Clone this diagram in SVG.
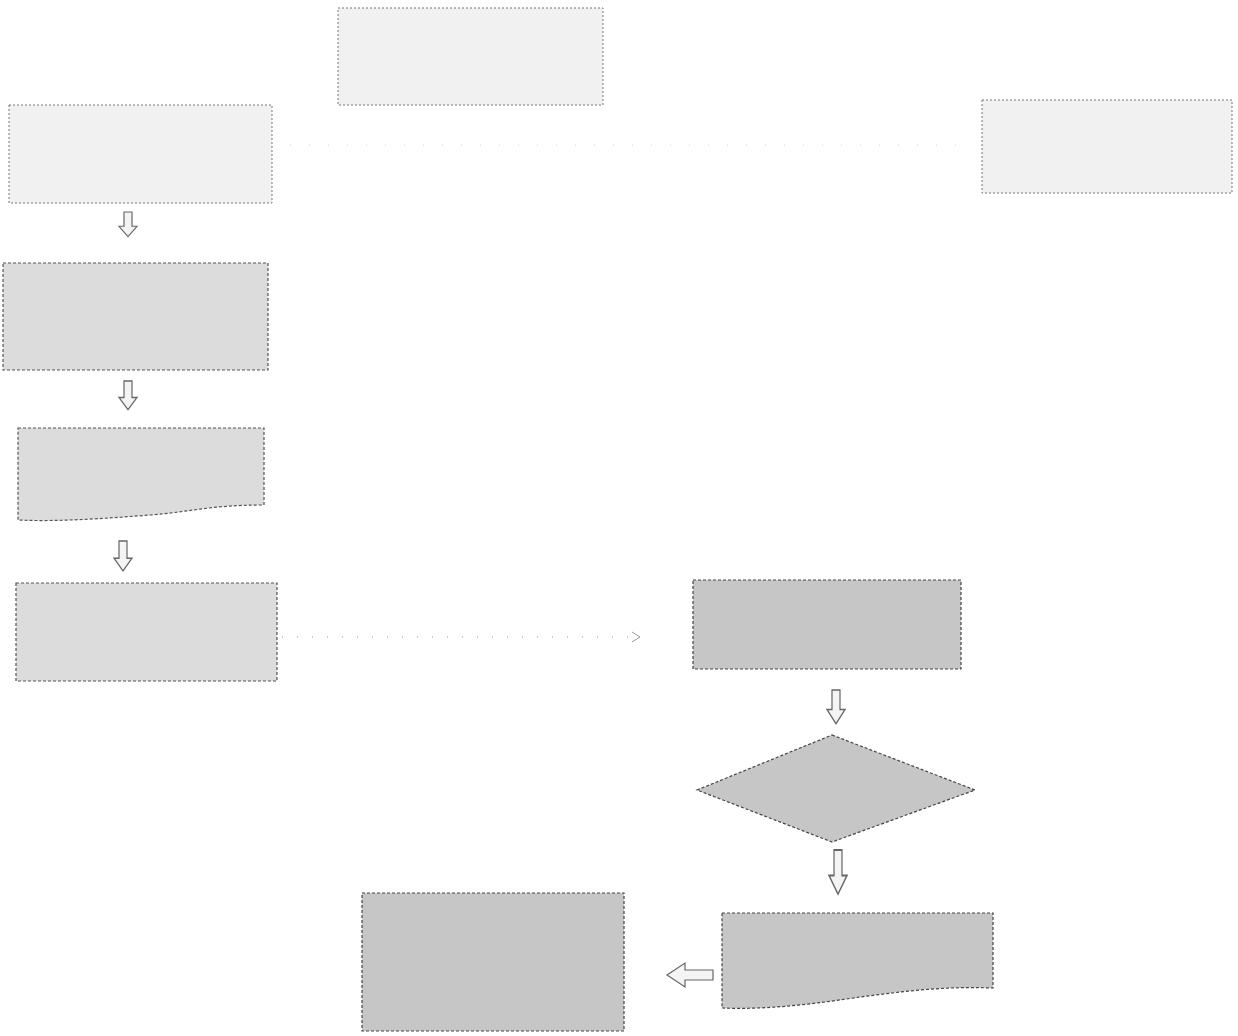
<svg xmlns="http://www.w3.org/2000/svg" width="1238" height="1036" viewBox="0 0 1238 1036">
<style>
.light{fill:#f1f1f1;stroke:#777;stroke-width:1;stroke-dasharray:2 2}
.mid{fill:#dcdcdc;stroke:#555;stroke-width:1.2;stroke-dasharray:3 2}
.dark{fill:#c6c6c6;stroke:#444;stroke-width:1.2;stroke-dasharray:3 2}
.conn{fill:none;stroke:#999;stroke-width:1.2;stroke-dasharray:1 14}
.faint{fill:none;stroke:#d4d4d4;stroke-width:1;stroke-dasharray:1 18}
.barrow{fill:#f4f4f4;stroke:#666;stroke-width:1.2}
</style>
<defs>
<path id="down" d="M-4,0 H4 V15 H9 L0,26 L-9,15 H-4 Z"/>
</defs>
<rect width="1238" height="1036" fill="#ffffff"/>
<g id="connectors">
<line class="faint" x1="290" y1="145" x2="972" y2="145"/>
<line class="conn" x1="282" y1="637" x2="630" y2="637"/>
<path d="M632,632 L640,637 L632,642" fill="none" stroke="#999" stroke-width="1"/>
<use href="#down" class="barrow" transform="translate(128,212) scale(1,0.95)"/>
<use href="#down" class="barrow" transform="translate(128,381) scale(1,1.1)"/>
<use href="#down" class="barrow" transform="translate(123,541) scale(1,1.15)"/>
<use href="#down" class="barrow" transform="translate(836,690) scale(1,1.3)"/>
<use href="#down" class="barrow" transform="translate(838,850) scale(1,1.7)"/>
<path class="barrow" d="M713,970 V980 H685 V987 L667,975 L685,963 V970 Z"/>
</g>
<g id="node-a"><rect class="light" x="338" y="8" width="265" height="97"/></g>
<g id="node-b"><rect class="light" x="9" y="105" width="263" height="98"/></g>
<g id="node-c"><rect class="light" x="982" y="100" width="250" height="93"/></g>
<g id="node-d"><rect class="mid" x="3" y="263" width="265" height="107"/></g>
<g id="node-e"><path class="mid" d="M18,428 H264 V505 C210,505 190,512 150,515 C110,518 60,522 18,520 Z"/></g>
<g id="node-f"><rect class="mid" x="16" y="583" width="261" height="98"/></g>
<g id="node-g"><rect class="dark" x="693" y="580" width="268" height="89"/></g>
<g id="node-diamond"><path class="dark" d="M832,735 L975,790 L832,842 L697,790 Z"/></g>
<g id="node-h"><path class="dark" d="M722,913 H993 V988 C940,986 900,992 860,997 C820,1003 770,1010 722,1008 Z"/></g>
<g id="node-i"><rect class="dark" x="362" y="893" width="262" height="138"/></g>
</svg>
